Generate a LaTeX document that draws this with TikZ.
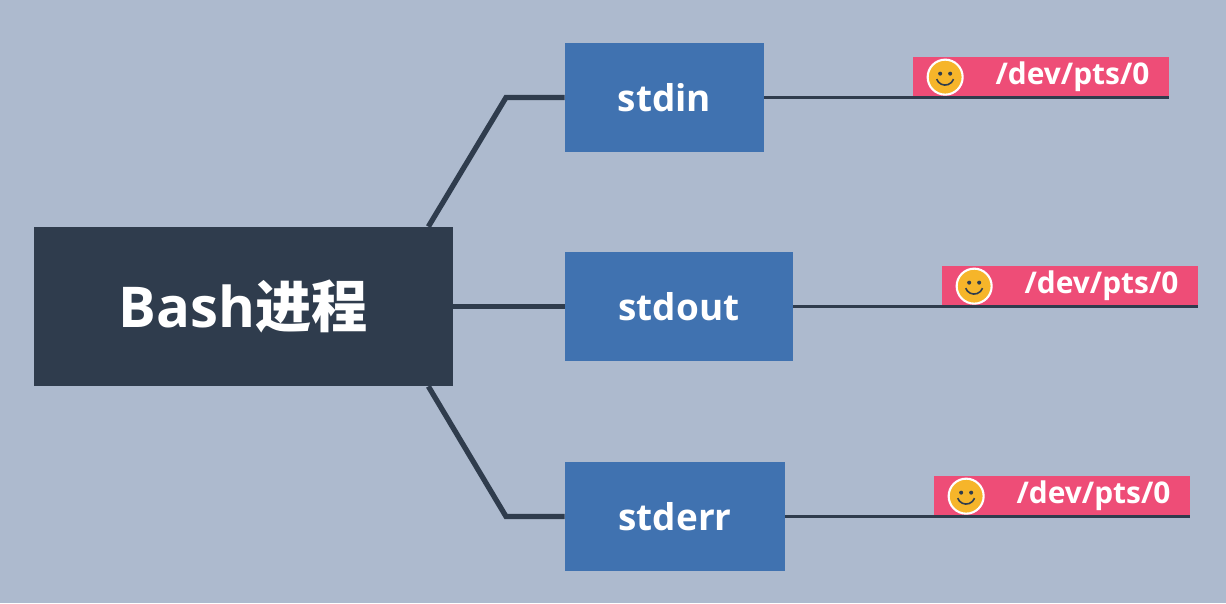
\documentclass[tikz,border=0pt]{standalone}
\usepackage{fontspec}
\setmainfont{Open Sans}
\newfontfamily\cjk{Noto Sans CJK SC}
\usetikzlibrary{calc}
\definecolor{bgcol}{HTML}{ADBACE}
\definecolor{darkcol}{HTML}{2F3C4D}
\definecolor{bluecol}{HTML}{4072B0}
\definecolor{pinkcol}{HTML}{EE4D77}
\definecolor{smilecol}{HTML}{F6B52A}
\begin{document}
\begin{tikzpicture}[
	stream/.style={fill=bluecol,text=white,font=\fontsize{21}{25}\selectfont,minimum height=2.18cm,inner sep=0pt},
	tag/.style={fill=pinkcol,text=white,font=\fontsize{17}{20}\selectfont\bfseries,minimum height=0.8cm,minimum width=5.12cm,inner sep=0pt},
	branch/.style={darkcol,line width=3pt},
	leaf/.style={darkcol,line width=1.5pt}
]
	%Background
	\fill[bgcol] (0,0) rectangle (24.52,12.06);
	%Process box
	\node[fill=darkcol,text=white,minimum width=8.38cm,minimum height=3.18cm,inner sep=0pt,
		font=\fontsize{32}{38}\selectfont\bfseries] (bash) at (4.87,5.93) {Bash{\cjk\bfseries 进程}};
	%The three streams
	\node[stream,minimum width=3.98cm] (stdin) at (13.29,10.11) {\bfseries stdin};
	\node[stream,minimum width=4.56cm] (stdout) at (13.58,5.93) {\bfseries stdout};
	\node[stream,minimum width=4.40cm] (stderr) at (13.50,1.73) {\bfseries stderr};
	%Branches
	\coordinate (kin) at (10.12,10.11);
	\coordinate (kerr) at (10.12,1.73);
	\draw[branch] ($(bash.north east)+(-0.5,0)$) -- (kin) -- (stdin.west);
	\draw[branch] (bash.east) -- (stdout.west);
	\draw[branch] ($(bash.south east)+(-0.5,0)$) -- (kerr) -- (stderr.west);
	%Device tags
	\foreach \s/\x/\e in {stdin/20.82/23.38, stdout/21.40/23.96, stderr/21.24/23.80} {
		\node[tag,anchor=south] (tag\s) at (\x,0|-\s) {\hspace*{1.26cm}/dev/pts/0};
		\coordinate (end\s) at (\e,0|-\s);
		\draw[leaf] (\s.east) -- (end\s);
		\node[circle,fill=smilecol,draw=white,line width=1.2pt,minimum size=0.7cm,inner sep=0pt]
			(face\s) at ($(tag\s.west)+(0.65,0)$) {};
		\fill[darkcol] ($(face\s)+(-0.1,0.07)$) circle (0.04) ($(face\s)+(0.1,0.07)$) circle (0.04);
		\draw[darkcol,line width=0.9pt] ($(face\s)+(-0.17,-0.04)$) arc (200:340:0.18);
	}
\end{tikzpicture}
\end{document}
